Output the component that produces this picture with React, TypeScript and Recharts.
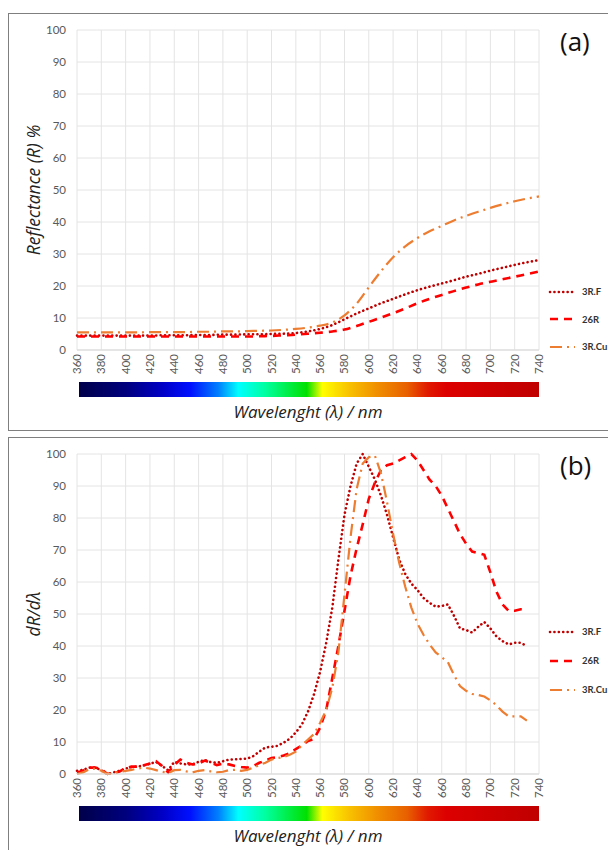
import React from 'react';
import { LineChart, Line, XAxis, YAxis, CartesianGrid } from 'recharts';

// (a) reflectance, every 10 nm
const WAVE_A = [
  360, 370, 380, 390, 400, 410, 420, 430, 440, 450, 460, 470, 480, 490, 500, 510, 520, 530, 540, 550,
  560, 570, 580, 590, 600, 610, 620, 630, 640, 650, 660, 670, 680, 690, 700, 710, 720, 730, 740,
];
const RF_A = [
  4.5, 4.5, 4.5, 4.5, 4.5, 4.5, 4.5, 4.6, 4.6, 4.6, 4.7, 4.7, 4.8, 4.8, 4.9, 4.9, 5.0, 5.1, 5.3, 5.8,
  6.6, 7.8, 9.6, 11.4, 13.0, 14.6, 16.0, 17.4, 18.7, 19.8, 20.8, 21.8, 22.9, 23.8, 24.8, 25.7, 26.6, 27.4, 28.1,
];
const R26_A = [
  4.2, 4.2, 4.2, 4.2, 4.2, 4.2, 4.2, 4.2, 4.2, 4.2, 4.2, 4.2, 4.2, 4.2, 4.2, 4.3, 4.4, 4.6, 4.8, 5.1,
  5.4, 5.8, 6.4, 7.5, 8.8, 10.1, 11.5, 13.0, 14.6, 16.0, 17.2, 18.4, 19.5, 20.5, 21.3, 22.1, 22.9, 23.7, 24.5,
];
const RCU_A = [
  5.5, 5.5, 5.5, 5.5, 5.5, 5.5, 5.6, 5.6, 5.6, 5.6, 5.7, 5.7, 5.8, 5.8, 5.9, 6.0, 6.1, 6.3, 6.6, 7.0,
  7.6, 8.6, 10.8, 14.5, 19.6, 24.6, 29.0, 32.4, 35.0, 37.1, 38.8, 40.5, 41.9, 43.2, 44.4, 45.5, 46.5, 47.3, 48.0,
];

// (b) first derivative, every 5 nm
const WAVE_B = [
  360, 365, 370, 375, 380, 385, 390, 395, 400, 405, 410, 415, 420, 425, 430, 435, 440, 445, 450, 455,
  460, 465, 470, 475, 480, 485, 490, 495, 500, 505, 510, 515, 520, 525, 530, 535, 540, 545, 550, 555,
  560, 565, 570, 575, 580, 585, 590, 595, 600, 605, 610, 615, 620, 625, 630, 635, 640, 645, 650, 655,
  660, 665, 670, 675, 680, 685, 690, 695, 700, 705, 710, 715, 720, 725, 730,
];
const RF_B = [
  1.0, 1.3, 2.0, 2.0, 1.2, 0.0, 0.5, 1.0, 1.7, 2.2, 2.3, 2.7, 3.2, 3.8, 2.5, 1.2, 3.8, 3.3, 3.0, 3.0,
  3.8, 4.4, 3.7, 3.5, 4.0, 4.5, 4.6, 4.7, 4.8, 5.6, 7.0, 8.3, 8.5, 8.8, 9.8, 11.0, 13.0, 15.5, 19.5, 25.0,
  32.0, 41.0, 52.0, 67.0, 81.0, 90.0, 97.0, 100.0, 96.0, 92.0, 87.0, 81.0, 74.0, 67.0, 62.5, 59.5, 57.5, 55.0, 53.5, 52.3,
  52.5, 53.0, 49.5, 45.5, 45.0, 44.2, 46.0, 47.5, 45.5, 43.0, 41.5, 40.5, 41.0, 41.0, 40.0,
];
const R26_B = [
  0.5, 1.0, 2.0, 2.0, 1.5, 0.0, 0.3, 0.8, 1.8, 2.3, 2.3, 2.7, 3.3, 4.0, 2.5, 0.5, 2.8, 4.5, 3.5, 3.0,
  3.2, 4.2, 3.5, 2.8, 3.2, 3.0, 2.5, 2.2, 2.0, 2.5, 3.5, 4.2, 5.0, 5.3, 5.8, 6.5, 7.8, 9.0, 10.3, 11.0,
  14.5, 20.0, 30.0, 40.0, 51.0, 62.0, 70.5, 78.0, 86.0, 91.0, 95.0, 96.5, 97.0, 98.0, 99.0, 100.0, 98.0, 95.0, 92.0, 90.0,
  87.0, 83.0, 79.0, 75.0, 72.0, 69.5, 69.0, 68.5, 63.0, 57.0, 53.0, 51.0, 51.0, 51.5, 51.5,
];
const RCU_B = [
  0.0, 0.5, 1.5, 1.7, 1.0, 0.0, 0.3, 0.7, 1.0, 1.3, 1.7, 2.0, 1.7, 1.2, 0.7, 0.3, 1.2, 1.3, 0.8, 0.5,
  1.0, 1.2, 0.8, 0.5, 0.7, 1.2, 1.3, 1.0, 1.3, 2.0, 2.8, 3.5, 4.5, 5.0, 5.3, 6.0, 7.0, 9.0, 10.8, 12.5,
  16.0, 20.0, 27.0, 38.0, 56.0, 74.0, 89.0, 97.0, 99.0, 99.5, 94.0, 85.0, 75.0, 66.0, 58.5, 52.0, 47.0, 43.5, 40.5, 38.0,
  36.5, 35.0, 31.0, 27.5, 26.0, 25.0, 24.7, 24.2, 23.0, 21.5, 19.5, 18.0, 18.0, 18.0, 16.7,
];

const X_TICKS = [360, 380, 400, 420, 440, 460, 480, 500, 520, 540, 560, 580, 600, 620, 640, 660, 680, 700, 720, 740];
const Y_TICKS = [0, 10, 20, 30, 40, 50, 60, 70, 80, 90, 100];

const SERIES = [
  { key: 'rf', name: '3R.F', color: '#C00000', dash: '0.1 4.3', width: 2.6, cap: 'round' as const },
  { key: 'r26', name: '26R', color: '#FF0000', dash: '8 6', width: 2.6, cap: 'butt' as const },
  { key: 'rcu', name: '3R.Cu', color: '#ED7D31', dash: '12 5 2 5', width: 2.2, cap: 'butt' as const },
];

// visible spectrum strip under the axis
const SPECTRUM: [number, string][] = [
  [360, '#00004a'], [400, '#000080'], [430, '#0000c8'], [452, '#0010ff'], [475, '#0080ff'],
  [492, '#00ffff'], [514, '#00ffa0'], [548, '#00e000'], [561, '#ffff00'], [584, '#f8c000'],
  [606, '#f09000'], [631, '#e86000'], [648, '#e01a00'], [663, '#dd0000'], [740, '#c00000'],
];

const FONT = 'Lato, "Open Sans", sans-serif';
const TITLE_FONT = '"Open Sans", Lato, sans-serif';

const dataA = WAVE_A.map((w, i) => ({ wave: w, rf: RF_A[i], r26: R26_A[i], rcu: RCU_A[i] }));
const dataB = WAVE_B.map((w, i) => ({ wave: w, rf: RF_B[i], r26: R26_B[i], rcu: RCU_B[i] }));

const WaveTick = (props: any) => {
  const { x, y, payload } = props;
  return (
    <text x={x} y={y} dy="0.35em" transform={`rotate(-90 ${x} ${y})`} textAnchor="end" fill="#595959" fontSize={11.5} fontFamily={FONT}>
      {payload.value}
    </text>
  );
};

const Key = ({ top, pitch }: { top: number; pitch: number }) => (
  <div style={{ position: 'absolute', left: 548, top }}>
    {SERIES.map((s) => (
      <div key={s.key} style={{ display: 'flex', alignItems: 'center', height: pitch }}>
        <svg width={28} height={10}>
          <line x1={2} x2={27} y1={5} y2={5} stroke={s.color} strokeWidth={s.width} strokeDasharray={s.dash} strokeLinecap={s.cap} />
        </svg>
        <span style={{ marginLeft: 6, fontSize: 9.5, fontWeight: 700, color: '#333', fontFamily: FONT, whiteSpace: 'nowrap' }}>{s.name}</span>
      </div>
    ))}
  </div>
);

const gradient = `linear-gradient(to right, ${SPECTRUM.map(([w, c]) => `${c} ${(((w - 360) / 380) * 100).toFixed(1)}%`).join(', ')})`;

const Panel = ({ data, top, smooth, yLabel, tag, keyTop, keyPitch }: any) => (
  <>
    <div style={{ position: 'absolute', left: 8, top: top + 13, width: 620, height: 418, border: '1px solid #7f7f7f', boxSizing: 'border-box' }} />
    <div style={{ position: 'absolute', left: 0, top }}>
      <LineChart width={600} height={420} data={data} margin={{ top: 30, right: 61, bottom: 40, left: 37 }}>
        <CartesianGrid stroke="#e4e4e4" strokeWidth={1} />
        <XAxis
          dataKey="wave"
          type="number"
          domain={[360, 740]}
          ticks={X_TICKS}
          interval={0}
          height={30}
          tickLine={false}
          tickSize={4}
          tickMargin={0}
          axisLine={{ stroke: '#d9d9d9' }}
          tick={<WaveTick />}
        />
        <YAxis
          domain={[0, 100]}
          ticks={Y_TICKS}
          interval={0}
          width={40}
          tickLine={false}
          axisLine={false}
          tickMargin={5}
          tick={{ fill: '#595959', fontSize: 11.5, fontFamily: FONT }}
        />
        {SERIES.map((s) => (
          <Line
            key={s.key}
            dataKey={s.key}
            name={s.name}
            type={smooth ? 'monotone' : 'linear'}
            stroke={s.color}
            strokeWidth={s.width}
            strokeDasharray={s.dash}
            strokeLinecap={s.cap}
            dot={false}
            isAnimationActive={false}
          />
        ))}
      </LineChart>
    </div>
    <div style={{ position: 'absolute', left: 79, top: top + 382, width: 460, height: 15, background: gradient }} />
    <div style={{ position: 'absolute', left: 108, width: 400, top: top + 400, textAlign: 'center', fontSize: 17, fontStyle: 'italic', color: '#222', fontFamily: TITLE_FONT }}>
      Wavelenght (λ) / nm
    </div>
    <div
      style={{
        position: 'absolute', left: 33, top: top + 190, width: 240, marginLeft: -120, marginTop: -12, height: 24, lineHeight: '24px',
        textAlign: 'center', transform: 'rotate(-90deg)', fontSize: 17.5, fontStyle: 'italic', color: '#222', fontFamily: TITLE_FONT,
      }}
    >
      {yLabel}
    </div>
    <div style={{ position: 'absolute', left: 560, top: top + 23, fontSize: 26, color: '#111', fontFamily: TITLE_FONT }}>{tag}</div>
    <Key top={keyTop} pitch={keyPitch} />
  </>
);

export default function App() {
  return (
    <div style={{ position: 'fixed', left: 0, top: 0, width: 608, height: 850, overflow: 'hidden', background: '#fff' }}>
      <Panel data={dataA} top={0} smooth yLabel="Reflectance (R) %" tag="(a)" keyTop={278} keyPitch={27.5} />
      <Panel data={dataB} top={424} smooth={false} yLabel="dR/dλ" tag="(b)" keyTop={617} keyPitch={29} />
    </div>
  );
}
